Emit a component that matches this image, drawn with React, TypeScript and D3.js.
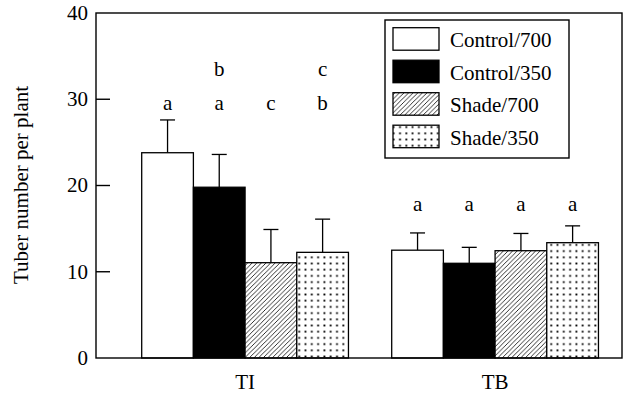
import React from "react";
import * as d3 from "d3";

const groups = ["TI", "TB"];
const series = ["Control/700", "Control/350", "Shade/700", "Shade/350"];
const means = {
  TI: [23.8, 19.8, 11.05, 12.25],
  TB: [12.5, 10.98, 12.44, 13.37],
};
const errors = {
  TI: [3.8, 3.8, 3.85, 3.85],
  TB: [2.0, 1.85, 2.0, 1.95],
};
// significance letters, lower row and upper row for each group
const lettersLower = {
  TI: ["a", "a", "c", "b"],
  TB: ["a", "a", "a", "a"],
};
const lettersUpper = {
  TI: ["", "b", "", "c"],
  TB: ["", "", "", ""],
};
const yTicks = [0, 10, 20, 30, 40];
const yTitle = "Tuber number per plant";

const W = 627;
const H = 393;
const FONT = "Liberation Serif";

export default function App() {
  const left = 96;
  const right = 622;
  const top = 13;
  const bottom = 358;

  const y = d3.scaleLinear().domain([0, 40]).range([bottom, top]);
  const x0 = d3
    .scaleBand<string>()
    .domain(groups)
    .range([left, right])
    .paddingInner(0.173)
    .paddingOuter(0.1385)
    .align(0.66);
  const x1 = d3
    .scaleBand<string>()
    .domain(series)
    .range([0, x0.bandwidth()])
    .padding(0);

  // heights (in data units) of the letter rows
  const letterLevel = { TI: [28.75, 32.75], TB: [17.1, 21.1] };

  const fills = ["#fff", "#000", "url(#hatch)", "url(#dots)"];
  const capHalf = 7.5;

  const legendX = 385;
  const legendY = 20;
  const legendW = 184;
  const legendH = 138;
  const rowStep = 32.5;

  const textStyle = { fontFamily: FONT, fontSize: 21 };

  return (
    <svg
      width={W}
      height={H}
      style={{ position: "absolute", left: 0, top: 0, background: "#fff" }}
    >
      <defs>
        <pattern id="hatch" patternUnits="userSpaceOnUse" width="4.6" height="4.6">
          <rect width="4.6" height="4.6" fill="#fff" />
          <path d="M-1,5.6 L5.6,-1 M-1,1 L1,-1 M3.6,5.6 L5.6,3.6" stroke="#000" strokeWidth="0.8" />
        </pattern>
        <pattern id="dots" patternUnits="userSpaceOnUse" width="6.3" height="6.2">
          <rect width="6.3" height="6.2" fill="#fff" />
          <rect x="2.2" y="2.2" width="1.8" height="1.8" fill="#000" />
        </pattern>
      </defs>

      {/* bars */}
      {groups.map((g) =>
        series.map((s, i) => {
          const bx = (x0(g) ?? 0) + (x1(s) ?? 0);
          const bw = x1.bandwidth();
          const v = means[g][i];
          const e = errors[g][i];
          const cx = bx + bw / 2;
          return (
            <g key={g + s}>
              <line x1={cx} x2={cx} y1={y(v)} y2={y(v + e)} stroke="#000" strokeWidth={1.3} />
              <line x1={cx - capHalf} x2={cx + capHalf} y1={y(v + e)} y2={y(v + e)} stroke="#000" strokeWidth={1.3} />
              <rect
                x={bx}
                y={y(v)}
                width={bw}
                height={y(0) - y(v)}
                fill={fills[i]}
                stroke="#000"
                strokeWidth={1.3}
              />
              <text x={cx} y={y(letterLevel[g][0])} textAnchor="middle" style={textStyle}>
                {lettersLower[g][i]}
              </text>
              {lettersUpper[g][i] && (
                <text x={cx} y={y(letterLevel[g][1])} textAnchor="middle" style={textStyle}>
                  {lettersUpper[g][i]}
                </text>
              )}
            </g>
          );
        })
      )}

      {/* frame */}
      <rect x={left} y={top} width={right - left} height={bottom - top} fill="none" stroke="#000" strokeWidth={1.4} />

      {/* y ticks */}
      {yTicks.map((t) => (
        <g key={t}>
          {t > 0 && t < 40 && (
            <line x1={left} x2={left + 14} y1={y(t)} y2={y(t)} stroke="#000" strokeWidth={1.4} />
          )}
          <text x={88} y={y(t)} dy="0.33em" textAnchor="end" style={textStyle}>
            {t}
          </text>
        </g>
      ))}

      {/* x labels */}
      {groups.map((g) => (
        <text key={g} x={(x0(g) ?? 0) + x0.bandwidth() / 2} y={388.5} textAnchor="middle" style={textStyle}>
          {g}
        </text>
      ))}

      {/* y title */}
      <text transform={`translate(28,185) rotate(-90)`} textAnchor="middle" style={textStyle}>
        {yTitle}
      </text>

      {/* legend */}
      <rect x={legendX} y={legendY} width={legendW} height={legendH} fill="#fff" stroke="#000" strokeWidth={1.4} />
      {series.map((s, i) => (
        <g key={s}>
          <rect
            x={legendX + 8}
            y={legendY + 7.7 + i * rowStep}
            width={46}
            height={22.5}
            fill={fills[i]}
            stroke="#000"
            strokeWidth={1.3}
          />
          <text x={legendX + 65} y={legendY + 27 + i * rowStep} style={textStyle}>
            {s}
          </text>
        </g>
      ))}
    </svg>
  );
}
